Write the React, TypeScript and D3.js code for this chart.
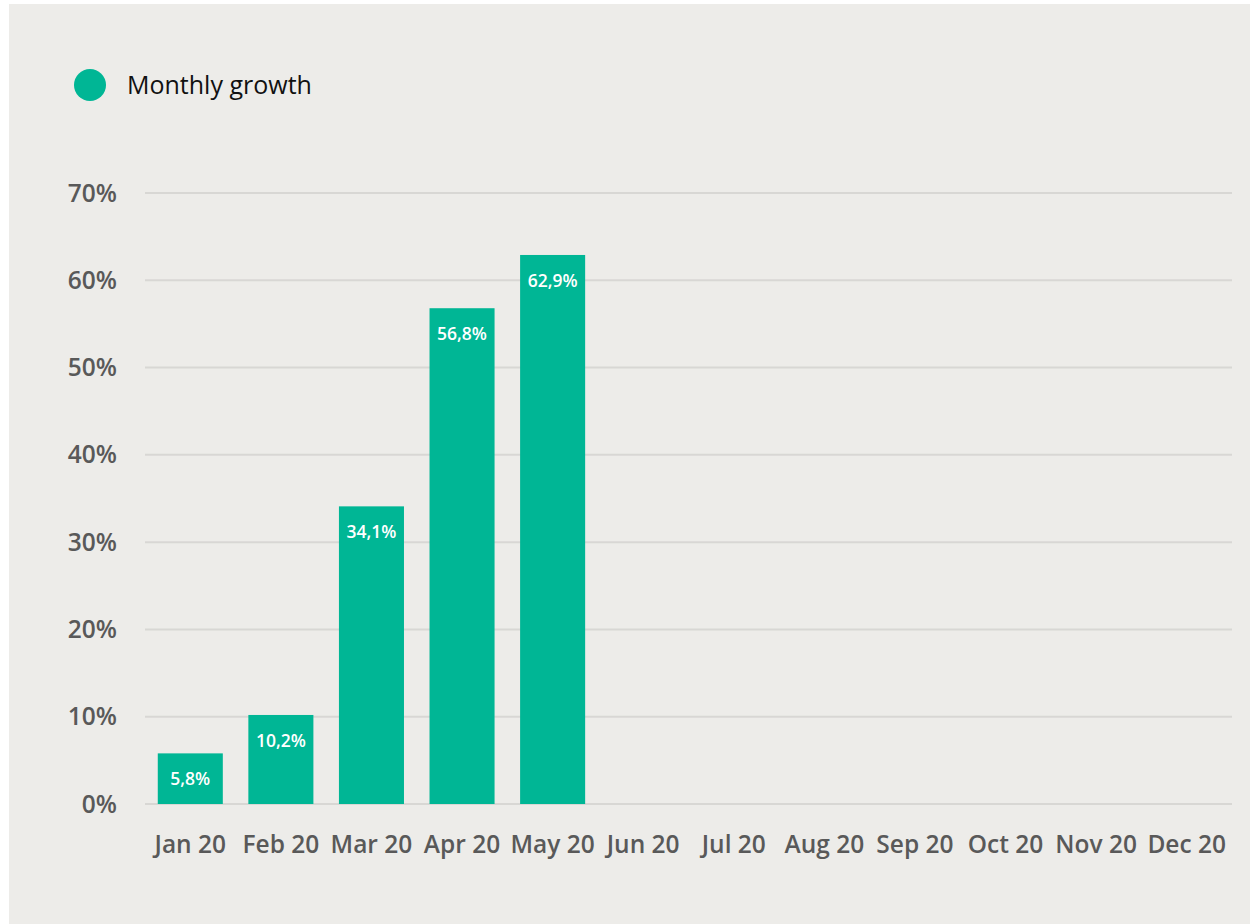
import React from "react";
import * as d3 from "d3";

const months = ["Jan 20","Feb 20","Mar 20","Apr 20","May 20","Jun 20","Jul 20","Aug 20","Sep 20","Oct 20","Nov 20","Dec 20"];
const growth: (number | null)[] = [5.8, 10.2, 34.1, 56.8, 62.9, null, null, null, null, null, null, null];
const yTicks = [0, 10, 20, 30, 40, 50, 60, 70];
const seriesName = "Monthly growth";

const W = 1250, H = 924;
const FONT = "'Open Sans', 'Noto Sans', sans-serif";
const GREEN = "#00b695";

export default function App() {
  const x = d3.scaleBand<string>().domain(months).range([145, 1232]).paddingInner(0.282).paddingOuter(0.141);
  const y = d3.scaleLinear().domain([0, 70]).range([804, 193]);
  const fmt = (v: number) => v.toFixed(1).replace(".", ",") + "%";
  return (
    <svg width={W} height={H} style={{ position: "absolute", left: 0, top: 0, display: "block" }}>
      <rect x={0} y={0} width={W} height={H} fill="#ffffff" />
      <rect x={9} y={4} width={W - 9} height={H - 4} fill="#edece9" />
      <circle cx={90} cy={85} r={16} fill={GREEN} />
      <text x={127} y={94} fontFamily={FONT} fontSize={25} fill="#111">{seriesName}</text>
      {yTicks.map(t => (
        <g key={t}>
          <line x1={145} x2={1232} y1={y(t)} y2={y(t)} stroke="#d8d7d4" strokeWidth={2} />
          <text x={117} y={y(t) + 8.5} textAnchor="end" fontFamily={FONT} fontWeight={600} fontSize={24.5} fill="#595959">{t}%</text>
        </g>
      ))}
      {months.map((m, i) => {
        const v = growth[i];
        const bx = x(m)!;
        return (
          <g key={m}>
            {v != null && (
              <>
                <rect x={bx} y={y(v)} width={x.bandwidth()} height={y(0) - y(v)} fill={GREEN} />
                <text x={bx + x.bandwidth() / 2} y={y(v) + 32} textAnchor="middle" fontFamily={FONT} fontWeight={600} fontSize={17.5} fill="#fff">{fmt(v)}</text>
              </>
            )}
            <text x={bx + x.bandwidth() / 2} y={853} textAnchor="middle" fontFamily={FONT} fontWeight={600} fontSize={24.5} fill="#595959">{m}</text>
          </g>
        );
      })}
    </svg>
  );
}
